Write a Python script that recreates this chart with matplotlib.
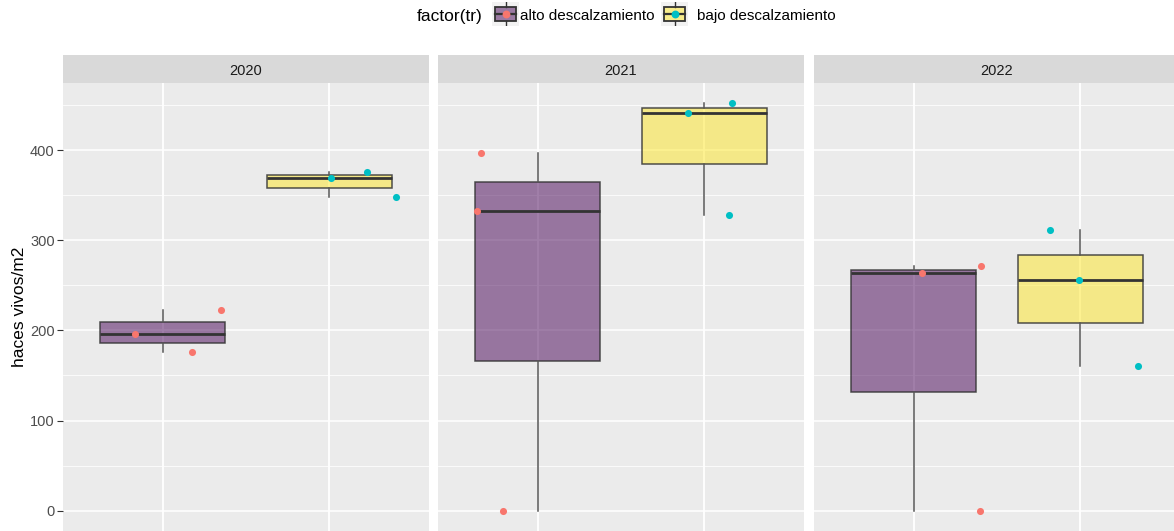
import matplotlib
matplotlib.use('Agg')
import matplotlib.pyplot as plt
from matplotlib.patches import Rectangle

plt.rcParams['font.family'] = ['Liberation Sans', 'DejaVu Sans']

# data
years = ['2020', '2021', '2022']
groups = ['alto descalzamiento', 'bajo descalzamiento']
alto = {'2020': [176, 196, 223], '2021': [0, 332, 397], '2022': [0, 264, 271]}
bajo = {'2020': [348, 369, 376], '2021': [328, 441, 452], '2022': [160, 256, 311]}
# horizontal jitter of the points (same order as the values)
jit_alto = {'2020': [0.173, -0.165, 0.35], '2021': [-0.207, -0.364, -0.343], '2022': [0.398, 0.048, 0.404]}
jit_bajo = {'2020': [0.4, 0.012, 0.227], '2021': [0.152, -0.098, 0.167], '2022': [0.35, -0.008, -0.18]}
yticks = [0, 100, 200, 300, 400]

box_fill = [(0x44/255, 0x01/255, 0x54/255, 0.5), (0xFD/255, 0xE7/255, 0x25/255, 0.5)]
pt_col = ['#F8766D', '#00BFC4']

W, H = 1174, 531
fig = plt.figure(figsize=(W/100, H/100), dpi=100)


def rect(x0, y0, x1, y1):
    return [x0/W, 1 - y1/H, (x1 - x0)/W, (y1 - y0)/H]


lefts = [63, 438, 814]
pw = 366
ptop, pbot = 83, 531
stop = 55

for i, yr in enumerate(years):
    ax = fig.add_axes(rect(lefts[i], ptop, lefts[i] + pw, pbot))
    ax.set_facecolor('#EBEBEB')
    ax.set_xlim(0.4, 2.6)
    ax.set_ylim(-22.6, 474.6)
    ax.set_yticks(yticks)
    ax.set_yticks([50, 150, 250, 350, 450], minor=True)
    ax.set_xticks([1, 2])
    ax.grid(True, which='major', color='white', lw=1.1)
    ax.grid(True, which='minor', axis='y', color='white', lw=0.55)
    ax.set_axisbelow(True)
    for s in ax.spines.values():
        s.set_visible(False)
    ax.tick_params(axis='x', length=0, labelbottom=False)
    ax.tick_params(axis='y', which='minor', length=0)
    if i == 0:
        ax.tick_params(axis='y', length=4, color='#333333', labelsize=10.5,
                       labelcolor='#4D4D4D', pad=2)
        ax.set_ylabel('haces vivos/m2', fontsize=12.5, color='black', labelpad=2)
    else:
        ax.tick_params(axis='y', length=0, labelleft=False)

    bp = ax.boxplot([alto[yr], bajo[yr]], positions=[1, 2], widths=0.75,
                    patch_artist=True, showfliers=False, showcaps=False, whis=1.5,
                    medianprops=dict(color='#333333', lw=2.0),
                    whiskerprops=dict(color='#555555', lw=1.1),
                    boxprops=dict(lw=1.1))
    for k, b in enumerate(bp['boxes']):
        b.set_facecolor(box_fill[k])
        b.set_edgecolor((0.2, 0.2, 0.2, 0.85))

    ax.scatter([1 + d for d in jit_alto[yr]], alto[yr], s=26, color=pt_col[0],
               zorder=5, linewidths=0)
    ax.scatter([2 + d for d in jit_bajo[yr]], bajo[yr], s=26, color=pt_col[1],
               zorder=5, linewidths=0)

    sax = fig.add_axes(rect(lefts[i], stop, lefts[i] + pw, ptop))
    sax.set_facecolor('#D9D9D9')
    sax.set_xticks([])
    sax.set_yticks([])
    for s in sax.spines.values():
        s.set_visible(False)
    sax.text(0.5, 0.44, yr, ha='center', va='center', fontsize=10.5,
             color='#1A1A1A', transform=sax.transAxes)

# legend at top
fig.text(417/W, 1 - 17/H, 'factor(tr)', fontsize=12.5, va='center', ha='left')
key_x = [492, 661]
lab_x = [520, 697]
for k in range(2):
    kax = fig.add_axes(rect(key_x[k], 2, key_x[k] + 27, 26))
    kax.set_xlim(0, 1)
    kax.set_ylim(0, 1)
    kax.set_facecolor('#F2F2F2')
    kax.set_xticks([])
    kax.set_yticks([])
    for s in kax.spines.values():
        s.set_visible(False)
    kax.plot([0.5, 0.5], [0.0, 0.22], color='#333333', lw=1)
    kax.plot([0.5, 0.5], [0.78, 1.0], color='#333333', lw=1)
    kax.add_patch(Rectangle((0.12, 0.22), 0.76, 0.56, facecolor=box_fill[k],
                            edgecolor='#333333', lw=1.3))
    kax.plot([0.12, 0.88], [0.5, 0.5], color='#333333', lw=1.6)
    kax.scatter([0.5], [0.5], s=32, color=pt_col[k], zorder=5, linewidths=0)
    fig.text(lab_x[k]/W, 1 - 16/H, groups[k], fontsize=11, va='center', ha='left')

fig.savefig('out.png', dpi=100)
